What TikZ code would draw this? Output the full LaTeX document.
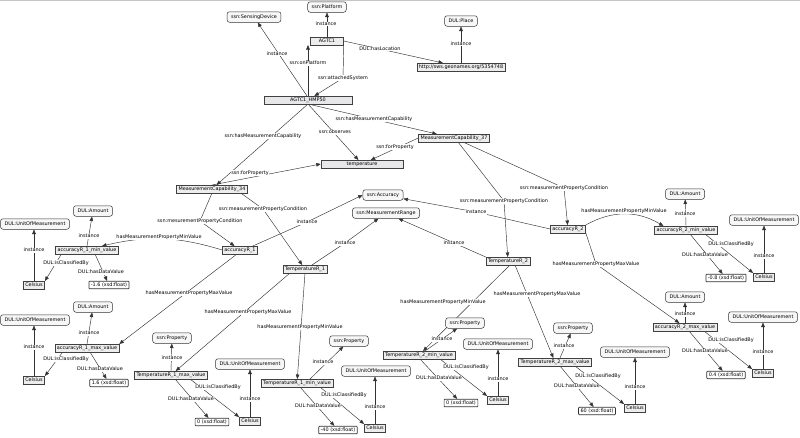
\documentclass[tikz,border=0pt]{standalone}
\usepackage{fontspec}
\setmainfont{DejaVu Sans}
\usetikzlibrary{arrows.meta}
\pgfdeclarelayer{bg}
\pgfsetlayers{bg,main}
\begin{document}
\begin{tikzpicture}[x=1pt,y=-1pt,
  every node/.style={font=\fontsize{4.9}{5.6}\selectfont, inner ysep=0pt},
  cls/.style={draw=black!80, fill=gray!6, rounded corners=2.5pt, inner xsep=4pt, minimum height=10.5pt, line width=0.5pt},
  ind/.style={draw=black!75, fill=gray!14, inner xsep=2pt, minimum height=7.5pt, line width=0.5pt},
  wide/.style={ind, fill=blue!4!gray!18},
  lit/.style={draw=black!80, fill=white, inner xsep=2pt, minimum height=7.5pt, line width=0.7pt, rounded corners=0.8pt},
  lbl/.style={fill=white, inner xsep=0.6pt, inner ysep=0.6pt},
  e/.style={draw=black!80, line width=0.45pt, -{Triangle[length=4.5pt,width=3.6pt]}},
]
\useasboundingbox (0,0) rectangle (800,437);
\draw[gray!45, line width=1.2pt] (0,0.6) -- (800,0.6);

% ---------- main nodes
\node[cls] (sd) at (254,17) {ssn:SensingDevice};
\node[cls] (plat) at (327,7) {ssn:Platform};
\node[ind, minimum width=33pt] (agtc1) at (327,41) {AGTC1};
\node[cls] (place) at (461,21) {DUL:Place};
\node[ind] (geo) at (461,67) {http://sws.geonames.org/5354748};
\node[wide, minimum width=88pt] (hmp) at (308,100) {AGTC1\_HMP50};
\node[wide, minimum width=82pt] (temp) at (362,164) {temperature};
\node[ind] (mc37) at (454,138) {MeasurementCapability\_37};
\node[ind] (mc34) at (212,189) {MeasurementCapability\_34};
\node[cls] (acc) at (383,195) {ssn:Accuracy};
\node[cls] (mr) at (386,213) {ssn:MeasurementRange};
\node[ind] (acc1) at (240,250) {accuracyR\_1};
\node[ind] (tr1) at (305,269) {TemperatureR\_1};
\node[ind] (acc2) at (568,229) {accuracyR\_2};
\node[ind] (tr2) at (508,261) {TemperatureR\_2};

% ---------- value groups
\node[ind] (acc1min) at (87,250) {accuracyR\_1\_min\_value};
\node[cls] (amt1) at (93,211) {DUL:Amount};
\node[cls] (uom1) at (35,224) {DUL:UnitOfMeasurement};
\node[ind] (cel1) at (34,285) {Celsius};
\node[lit] (v1) at (109,285) {-1.6 (xsd:float)};

\node[ind] (acc1max) at (87,348) {accuracyR\_1\_max\_value};
\node[cls] (amt2) at (93,307) {DUL:Amount};
\node[cls] (uom2) at (35,320) {DUL:UnitOfMeasurement};
\node[ind] (cel2) at (34,380) {Celsius};
\node[lit] (v2) at (109,383) {1.6 (xsd:float)};

\node[ind] (tr1max) at (171,375) {TemperatureR\_1\_max\_value};
\node[cls] (prop1) at (172,338) {ssn:Property};
\node[cls] (uom3) at (250,364) {DUL:UnitOfMeasurement};
\node[ind] (cel3) at (250,421) {Celsius};
\node[lit] (v3) at (212,422) {0 (xsd:float)};

\node[ind] (tr1min) at (297,383) {TemperatureR\_1\_min\_value};
\node[cls] (prop2) at (349,341) {ssn:Property};
\node[cls] (uom4) at (376,371) {DUL:UnitOfMeasurement};
\node[ind] (cel4) at (375,428) {Celsius};
\node[lit] (v4) at (338,430) {-40 (xsd:float)};

\node[ind] (tr2min) at (419,355) {TemperatureR\_2\_min\_value};
\node[cls] (prop3) at (465,323) {ssn:Property};
\node[cls] (uom5) at (498,344) {DUL:UnitOfMeasurement};
\node[ind] (cel5) at (498,400) {Celsius};
\node[lit] (v5) at (461,403) {0 (xsd:float)};

\node[ind] (tr2max) at (555,362) {TemperatureR\_2\_max\_value};
\node[cls] (prop4) at (573,328) {ssn:Property};
\node[cls] (uom6) at (635,352) {DUL:UnitOfMeasurement};
\node[ind] (cel6) at (635,408) {Celsius};
\node[lit] (v6) at (597,411) {60 (xsd:float)};

\node[ind] (acc2min) at (686,230) {accuracyR\_2\_min\_value};
\node[cls] (amt3) at (685,194) {DUL:Amount};
\node[cls] (uom7) at (764,220) {DUL:UnitOfMeasurement};
\node[ind] (cel7) at (764,277) {Celsius};
\node[lit] (v7) at (726,278) {-0.8 (xsd:float)};

\node[ind] (acc2max) at (685,327) {accuracyR\_2\_max\_value};
\node[cls] (amt4) at (685,297) {DUL:Amount};
\node[cls] (uom8) at (763,317) {DUL:UnitOfMeasurement};
\node[ind] (cel8) at (763,373) {Celsius};
\node[lit] (v8) at (726,375) {0.4 (xsd:float)};

% ---------- edge labels
\node[lbl] (l_sd) at (277,54) {instance};
\node[lbl] (l_onp) at (308,63) {ssn:onPlatform};
\node[lbl] (l_plat) at (326,24) {instance};
\node[lbl] (l_loc) at (380,49) {DUL:hasLocation};
\node[lbl] (l_place) at (461,44) {instance};
\node[lbl] (l_att) at (343,78) {ssn:attachedSystem};
\node[lbl] (l_obs) at (335,132) {ssn:observes};
\node[lbl] (l_hmc34) at (263,136) {ssn:hasMeasurementCapability};
\node[lbl] (l_hmc37) at (374,119) {ssn:hasMeasurementCapability};
\node[lbl] (l_fp37) at (395,147) {ssn:forProperty};
\node[lbl] (l_fp34) at (250,173) {ssn:forProperty};
\node[lbl] (l_mpc1) at (200,221) {ssn:mesurementPropertyCondition};
\node[lbl] (l_mpc2) at (263,209) {ssn:measurementPropertyCondition};
\node[lbl] (l_mpc3) at (564,188) {ssn:measurementPropertyCondition};
\node[lbl] (l_mpc4) at (504,201) {ssn:measurementPropertyCondition};
\node[lbl] (l_iacc1) at (307,222) {instance};
\node[lbl] (l_itr1) at (345,243) {instance};
\node[lbl] (l_iacc2) at (476,212) {instance};
\node[lbl] (l_itr2) at (454,243) {instance};
\node[lbl] (l_min1) at (159,237) {hasMeasurementPropertyMinValue};
\node[lbl] (l_max1) at (189,293) {hasMeasurementPropertyMaxValue};
\node[lbl] (l_max2) at (248,312) {hasMeasurementPropertyMaxValue};
\node[lbl] (l_min2) at (300,327) {hasMeasurementPropertyMinValue};
\node[lbl] (l_min3) at (443,302) {hasMeasurementPropertyMinValue};
\node[lbl] (l_max3) at (537,294) {hasMeasurementPropertyMaxValue};
\node[lbl] (l_min4) at (624,211) {hasMeasurementPropertyMinValue};
\node[lbl] (l_max4) at (596,264) {hasMeasurementPropertyMaxValue};

\node[lbl] (a1i) at (89,236) {instance};
\node[lbl] (a1c) at (66,263) {DUL:isClassifiedBy};
\node[lbl] (a1d) at (101,272) {DUL:hasDataValue};
\node[lbl] (a1u) at (34,250) {instance};

\node[lbl] (b1i) at (89,333) {instance};
\node[lbl] (b1c) at (66,359) {DUL:isClassifiedBy};
\node[lbl] (b1d) at (100,369) {DUL:hasDataValue};
\node[lbl] (b1u) at (34,347) {instance};

\node[lbl] (c1i) at (172,358) {instance};
\node[lbl] (c1c) at (218,387) {DUL:isClassifiedBy};
\node[lbl] (c1d) at (191,399) {DUL:hasDataValue};
\node[lbl] (c1u) at (250,399) {instance};

\node[lbl] (d1i) at (323,362) {instance};
\node[lbl] (d1c) at (344,395) {DUL:isClassifiedBy};
\node[lbl] (d1d) at (318,406) {DUL:hasDataValue};
\node[lbl] (d1u) at (375,407) {instance};

\node[lbl] (e1i) at (442,339) {instance};
\node[lbl] (e1c) at (466,367) {DUL:isClassifiedBy};
\node[lbl] (e1d) at (439,378) {DUL:hasDataValue};
\node[lbl] (e1u) at (498,379) {instance};

\node[lbl] (f1i) at (564,346) {instance};
\node[lbl] (f1c) at (598,376) {DUL:isClassifiedBy};
\node[lbl] (f1d) at (577,386) {DUL:hasDataValue};
\node[lbl] (f1u) at (635,387) {instance};

\node[lbl] (g1i) at (685,214) {instance};
\node[lbl] (g1c) at (731,244) {DUL:isClassifiedBy};
\node[lbl] (g1d) at (705,255) {DUL:hasDataValue};
\node[lbl] (g1u) at (764,256) {instance};

\node[lbl] (h1i) at (685,314) {instance};
\node[lbl] (h1c) at (731,340) {DUL:isClassifiedBy};
\node[lbl] (h1d) at (705,351) {DUL:hasDataValue};
\node[lbl] (h1u) at (763,352) {instance};

% ---------- connectors
\begin{pgfonlayer}{bg}
\draw[e] ([xshift=-1pt]hmp.north) -- (sd);
\draw[e] (hmp.north) -- (hmp.north |- agtc1.south);
\draw[e] (agtc1.south east) -- (l_att.center) -- (hmp);
\draw[e] (agtc1.north) -- (plat);
\draw[e] (agtc1.east) -- (l_loc.center) -- (geo);
\draw[e] (geo.north) -- (place);
\draw[e] (hmp.south) -- (temp);
\draw[e] (hmp.south) -- (mc34);
\draw[e] (hmp.south) -- (mc37);
\draw[e] (mc37.west) -- (temp);
\draw[e] (mc34.north) -- (temp.west);
\draw[e] (mc34.south) -- (l_mpc1.center) -- (acc1);
\draw[e] ([xshift=-7pt]mc34.south east) -- (l_mpc2.center) -- (tr1);
\draw[e] ([xshift=9pt]mc37.south) -- (l_mpc3.center) -- (acc2);
\draw[e] ([xshift=4pt]mc37.south) -- (l_mpc4.center) -- (tr2);
\draw[e] ([xshift=-5pt]acc1.north east) -- (l_iacc1.center) -- (acc.west);
\draw[e] ([xshift=7pt]tr1.north) -- (l_itr1.center) -- (mr);
\draw[e] (acc2.west) -- (l_iacc2.center) -- (acc);
\draw[e] (tr2.north west) -- (l_itr2.center) -- (mr);
\draw[e] (acc1.west) to[bend right=15] (acc1min);
\draw[e] ([xshift=-3pt]acc1.south) -- (acc1max.north east);
\draw[e] ([xshift=-15pt]tr1.south) -- (tr1max);
\draw[e] (tr1.south) -- (tr1min);
\draw[e] ([xshift=2pt]tr2.south) -- (tr2min);
\draw[e] ([xshift=7pt]tr2.south) -- (tr2max);
\draw[e] (acc2.north east) to[bend left=30] ([xshift=9pt]acc2min.north west);
\draw[e] (acc2.south east) -- (l_max4.center) -- (acc2max);

\draw[e] (acc1min.north) -- (amt1);
\draw[e] ([xshift=6pt]acc1min.south west) -- (cel1.north east);
\draw[e] ([xshift=8pt]acc1min.south) -- (v1);
\draw[e] (cel1.north) -- (cel1.north |- uom1.south);

\draw[e] (acc1max.north) -- (amt2);
\draw[e] ([xshift=8pt]acc1max.south west) -- (cel2.north east);
\draw[e] ([xshift=3pt]acc1max.south) -- (v2);
\draw[e] (cel2.north) -- (cel2.north |- uom2.south);

\draw[e] (tr1max.north) -- (prop1);
\draw[e] ([xshift=19pt]tr1max.south) -- (cel3.north west);
\draw[e] ([xshift=4pt]tr1max.south) -- (v3);
\draw[e] (cel3.north) -- (cel3.north |- uom3.south);

\draw[e] ([xshift=13pt]tr1min.north) -- (prop2);
\draw[e] ([xshift=23pt]tr1min.south) -- (cel4.north west);
\draw[e] ([xshift=3pt]tr1min.south) -- (v4);
\draw[e] (cel4.north) -- (cel4.north |- uom4.south);

\draw[e] ([xshift=6pt]tr2min.north) -- (prop3);
\draw[e] ([xshift=21pt]tr2min.south) -- (cel5.north west);
\draw[e] ([xshift=1pt]tr2min.south) -- (v5);
\draw[e] (cel5.north) -- (cel5.north |- uom5.south);

\draw[e] ([xshift=5pt]tr2max.north) -- (prop4);
\draw[e] ([xshift=20pt]tr2max.south) -- (cel6.north west);
\draw[e] ([xshift=5pt]tr2max.south) -- (v6);
\draw[e] (cel6.north) -- (cel6.north |- uom6.south);

\draw[e] (acc2min.north) -- (amt3);
\draw[e] ([xshift=19pt]acc2min.south) -- (cel7.north west);
\draw[e] ([xshift=4pt]acc2min.south) -- (v7);
\draw[e] (cel7.north) -- (cel7.north |- uom7.south);

\draw[e] (acc2max.north) -- (amt4);
\draw[e] ([xshift=19pt]acc2max.south) -- (cel8.north west);
\draw[e] ([xshift=4pt]acc2max.south) -- (v8);
\draw[e] (cel8.north) -- (cel8.north |- uom8.south);
\end{pgfonlayer}
\end{tikzpicture}
\end{document}
